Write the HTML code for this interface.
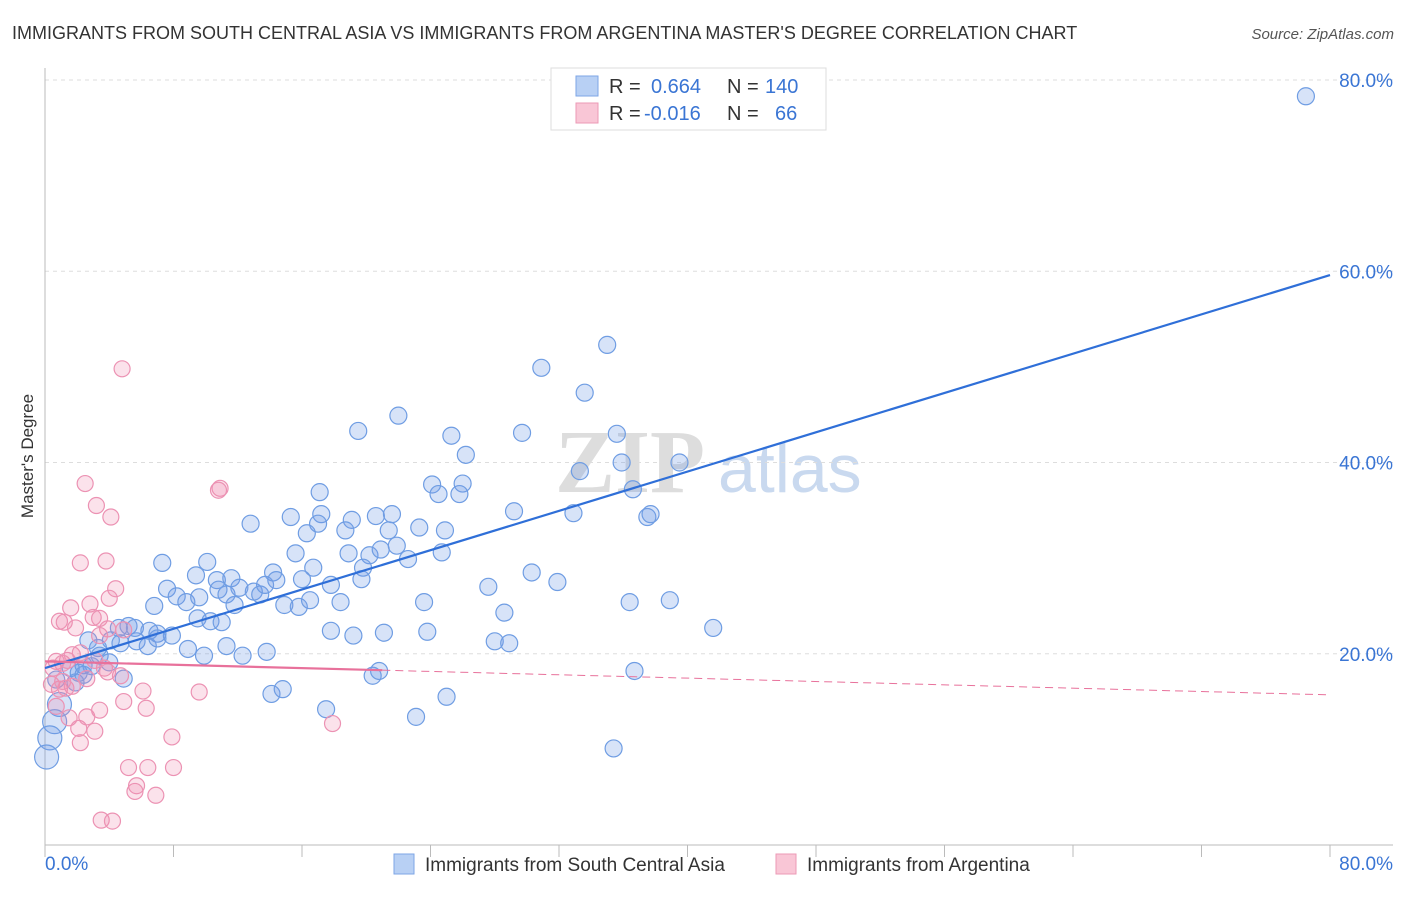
<!DOCTYPE html>
<html><head><meta charset="utf-8"><style>
body{margin:0;background:#fff;font-family:"Liberation Sans",sans-serif;}
</style></head><body>
<svg id="chart" width="1406" height="892" xmlns="http://www.w3.org/2000/svg">
<text x="12" y="39" font-size="18" fill="#333">IMMIGRANTS FROM SOUTH CENTRAL ASIA VS IMMIGRANTS FROM ARGENTINA MASTER'S DEGREE CORRELATION CHART</text>
<text x="1394" y="39" font-size="15" fill="#555" font-style="italic" text-anchor="end">Source: ZipAtlas.com</text>
<text transform="translate(33,456) rotate(-90)" font-size="17" fill="#333" text-anchor="middle">Master's Degree</text>
<text x="555" y="492" font-size="90" fill="#ddd" font-family="Liberation Serif" font-weight="bold">ZIP</text>
<text x="718" y="492" font-size="68" fill="#c9d9ef">atlas</text>
<g id="grid"></g><g id="axes"></g><g id="pts"></g><g id="lines"></g>
<g>
<rect x="551" y="68" width="275" height="62" fill="#fff" stroke="#ddd"/>
<rect x="576" y="76" width="22" height="20" fill="#b8d0f4" stroke="#7ea6e6"/>
<rect x="576" y="103" width="22" height="20" fill="#f9c6d6" stroke="#ec9ab6"/>
<text x="609" y="93" font-size="20" fill="#333">R = </text><text x="651" y="93" font-size="20" fill="#3a75d4">0.664</text>
<text x="727" y="93" font-size="20" fill="#333">N = </text><text x="765" y="93" font-size="20" fill="#3a75d4">140</text>
<text x="609" y="120" font-size="20" fill="#333">R = </text><text x="644" y="120" font-size="20" fill="#3a75d4">-0.016</text>
<text x="727" y="120" font-size="20" fill="#333">N = </text><text x="775" y="120" font-size="20" fill="#3a75d4">66</text>
</g>
<g>
<rect x="394" y="854" width="20" height="20" fill="#b8d0f4" stroke="#7ea6e6"/>
<text x="425" y="871" font-size="19" fill="#333">Immigrants from South Central Asia</text>
<rect x="776" y="854" width="20" height="20" fill="#f9c6d6" stroke="#ec9ab6"/>
<text x="807" y="871" font-size="19" fill="#333">Immigrants from Argentina</text>
</g>
</svg>
<script>
const yTicks=[20,40,60,80];
const yTickLabels=["20.0%","40.0%","60.0%","80.0%"];
const xEndLabels=["0.0%","80.0%"];
const blueX=[78.5,35.0,30.9,33.6,22.0,19.5,25.3,29.7,35.6,26.2,33.3,35.9,39.5,24.1,26.0,17.1,24.5,25.8,36.6,29.2,32.9,37.5,37.7,12.8,15.3,17.2,19.1,20.6,21.6,17.0,18.7,23.3,24.9,21.4,16.3,15.6,18.9,20.2,20.9,21.9,22.6,24.7,7.3,10.1,16.7,19.8,14.2,16.0,17.8,19.7,30.3,31.9,27.6,10.7,11.6,9.4,7.6,8.2,8.8,6.8,10.8,11.3,12.1,13.0,13.4,13.7,14.4,9.6,11.8,14.9,15.8,16.5,18.4,23.6,36.4,38.9,28.6,9.5,10.3,11.0,4.6,5.2,5.6,6.5,7.0,7.9,8.9,9.9,11.3,12.3,13.8,17.8,19.2,21.1,23.8,28.0,28.9,41.6,2.7,3.3,4.1,4.7,5.7,6.4,7.0,3.4,2.4,1.6,2.1,2.9,4.0,4.9,1.9,2.4,0.7,0.9,0.6,0.3,0.1,20.4,20.8,36.7,14.1,14.8,17.5,23.1,25.0,35.4];
const blueY=[78.3,52.3,49.9,47.3,44.9,43.3,42.8,43.1,43.0,40.8,39.1,40.0,40.0,37.7,37.8,36.9,36.7,36.7,37.2,34.9,34.7,34.3,34.6,33.6,34.3,34.6,34.0,34.4,34.6,33.6,32.9,33.2,32.9,32.9,32.6,30.5,30.5,30.3,30.9,31.3,29.9,30.6,29.5,29.6,29.0,29.0,28.5,27.8,27.2,27.8,28.5,27.5,27.0,27.7,27.9,28.2,26.8,26.0,25.4,25.0,26.7,26.2,26.9,26.5,26.2,27.2,27.7,25.9,25.1,25.1,24.9,25.6,25.4,25.4,25.4,25.6,24.3,23.7,23.4,23.3,22.7,22.9,22.7,22.4,22.1,21.9,20.5,19.8,20.8,19.8,20.2,22.4,21.9,22.2,22.3,21.3,21.1,22.7,21.4,20.6,21.4,21.1,21.3,20.8,21.6,19.8,18.8,18.5,18.0,18.7,19.1,17.4,17.0,17.8,17.3,14.7,12.9,11.2,9.2,17.7,18.2,18.2,15.8,16.3,14.2,13.4,15.5,10.1];
const pinkX=[4.8,2.5,3.2,4.1,10.9,10.8,2.2,3.8,4.4,4.0,1.6,2.8,0.9,1.2,1.9,3.0,3.4,4.9,3.9,0.7,0.5,1.1,1.4,1.7,2.2,3.1,3.7,0.4,0.9,1.3,1.7,1.1,2.6,4.7,3.9,0.7,1.5,2.1,2.2,2.6,3.1,3.4,4.9,6.1,6.3,9.6,7.9,5.2,6.4,8.0,5.7,5.6,6.9,3.5,4.2,17.9,3.4];
const pinkY=[49.8,37.8,35.5,34.3,37.3,37.1,29.5,29.7,26.8,25.8,24.8,25.2,23.4,23.3,22.7,23.8,23.7,22.5,22.6,19.2,18.5,19.0,19.3,19.9,20.1,19.3,18.5,16.8,16.3,16.4,16.6,17.1,17.4,17.7,18.1,14.5,13.3,12.2,10.7,13.4,11.9,14.1,15.0,16.1,14.3,16.0,11.3,8.1,8.1,8.1,6.2,5.6,5.2,2.6,2.5,12.7,21.9];
const blueTrend=[18.5,59.6];
const pinkTrend=[19.2,15.7];
const pinkSolidEnd=21;
const NS='http://www.w3.org/2000/svg';
const X0=45,X1=1330,Y0=845,Y80=80;
const sx=v=>X0+(X1-X0)*v/80;
const sy=v=>Y0-(Y0-Y80)*v/80;
function mk(t,a,p){const e=document.createElementNS(NS,t);for(const k in a)e.setAttribute(k,a[k]);p.appendChild(e);return e;}
const grid=document.getElementById('grid'),axes=document.getElementById('axes'),pts=document.getElementById('pts'),lines=document.getElementById('lines');
yTicks.forEach((t,i)=>{
 const g=mk('line',{x1:X0,x2:1393,y1:sy(t),y2:sy(t),stroke:'#ddd','stroke-dasharray':'4,4'},grid);
 
 
 const tx=mk('text',{x:1393,y:sy(t)+7,'font-size':19,fill:'#3a75d4','text-anchor':'end'},grid);
 tx.textContent=yTickLabels[i];
 
 
});
const ya=mk('line',{x1:X0,x2:X0,y1:68,y2:Y0,stroke:'#bbb'},axes);


const xa=mk('line',{x1:X0,x2:1393,y1:Y0,y2:Y0,stroke:'#bbb'},axes);


for(let i=0;i<=10;i++){const t=mk('line',{x1:sx(i*8),x2:sx(i*8),y1:Y0,y2:Y0+12,stroke:'#bbb'},axes);
 
 }
const l0=mk('text',{x:45,y:870,'font-size':19,fill:'#3a75d4'},axes);l0.textContent=xEndLabels[0];


const l1=mk('text',{x:1393,y:870,'font-size':19,fill:'#3a75d4','text-anchor':'end'},axes);l1.textContent=xEndLabels[1];


blueX.forEach((x,i)=>{const r=(x<1&&blueY[i]<15)?12:8.5;
 const c=mk('circle',{cx:sx(x),cy:sy(blueY[i]),r:r,fill:'rgba(110,155,230,0.28)',stroke:'#6f9de3','stroke-width':1.2},pts);
 
 });
pinkX.forEach((x,i)=>{const c=mk('circle',{cx:sx(x),cy:sy(pinkY[i]),r:8,fill:'rgba(240,140,175,0.25)',stroke:'#ec92b3','stroke-width':1.2},pts);
 
 });
const bl=mk('line',{x1:sx(0),y1:sy(blueTrend[0]),x2:sx(80),y2:sy(blueTrend[1]),stroke:'#2f6fd8','stroke-width':2.2},lines);


const pm=pinkTrend[0]+(pinkTrend[1]-pinkTrend[0])*pinkSolidEnd/80;
const pl=mk('line',{x1:sx(0),y1:sy(pinkTrend[0]),x2:sx(pinkSolidEnd),y2:sy(pm),stroke:'#e8719b','stroke-width':2.2},lines);


const pd=mk('line',{x1:sx(pinkSolidEnd),y1:sy(pm),x2:sx(80),y2:sy(pinkTrend[1]),stroke:'#e8719b','stroke-width':1,'stroke-dasharray':'8,5'},lines);


</script>
</body></html>
